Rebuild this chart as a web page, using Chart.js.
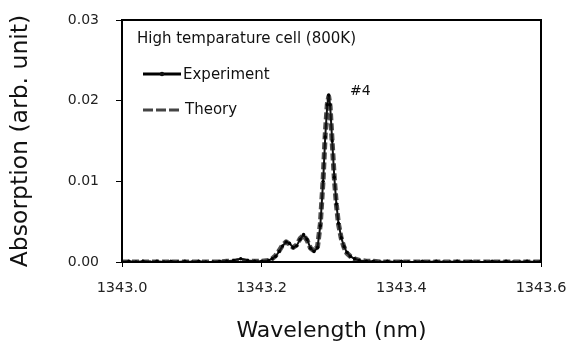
<!DOCTYPE html>
<html><head><meta charset="utf-8">
<script src="https://cdn.jsdelivr.net/npm/chart.js@4.4.1/dist/chart.umd.min.js"></script>
<style>html,body{margin:0;padding:0;background:#fff}#wrap{width:576px;height:349px}</style>
</head><body><div id="wrap"><canvas id="c" width="576" height="349"></canvas></div>
<script>
const wavelengths = [1343.00,1343.01,1343.02,1343.03,1343.04,1343.05,1343.06,1343.07,1343.08,1343.09,1343.10,1343.11,1343.12,1343.13,1343.14,1343.15,1343.16,1343.17,1343.18,1343.19,1343.20,1343.21,1343.215,1343.22,1343.225,1343.23,1343.235,1343.24,1343.245,1343.25,1343.255,1343.26,1343.265,1343.27,1343.275,1343.28,1343.284,1343.288,1343.291,1343.294,1343.296,1343.298,1343.301,1343.304,1343.307,1343.31,1343.314,1343.318,1343.322,1343.327,1343.333,1343.34,1343.35,1343.36,1343.37,1343.38,1343.39,1343.40,1343.41,1343.42,1343.43,1343.44,1343.45,1343.46,1343.47,1343.48,1343.49,1343.50,1343.51,1343.52,1343.53,1343.54,1343.55,1343.56,1343.57,1343.58,1343.59,1343.60];
const experiment = [0.0000,0.0001,0.0000,0.0001,0.0000,0.0001,0.0000,0.0001,0.0000,0.0001,0.0000,0.0001,0.0000,0.0000,0.0001,0.0001,0.0002,0.0004,0.0002,0.0001,0.0001,0.0002,0.0004,0.0007,0.0013,0.0020,0.0025,0.0023,0.0018,0.0020,0.0028,0.0034,0.0028,0.0017,0.0013,0.0018,0.0045,0.0100,0.0155,0.0195,0.0207,0.0195,0.0150,0.0105,0.0072,0.0048,0.0030,0.0019,0.0012,0.0007,0.0004,0.0002,0.0001,0.0001,0.0000,0.0001,0.0000,0.0001,0.0000,0.0000,0.0001,0.0000,0.0001,0.0000,0.0000,0.0001,0.0000,0.0001,0.0000,0.0000,0.0001,0.0000,0.0001,0.0000,0.0000,0.0001,0.0000,0.0001];
const theory = [0.0000,0.0000,0.0000,0.0000,0.0000,0.0000,0.0000,0.0000,0.0000,0.0000,0.0000,0.0000,0.0000,0.0000,0.0000,0.0001,0.0001,0.0002,0.0001,0.0001,0.0001,0.0002,0.0004,0.0008,0.0014,0.0021,0.0025,0.0022,0.0018,0.0021,0.0029,0.0033,0.0027,0.0017,0.0014,0.0019,0.0047,0.0102,0.0158,0.0196,0.0205,0.0193,0.0148,0.0104,0.0071,0.0047,0.0029,0.0018,0.0011,0.0007,0.0004,0.0002,0.0001,0.0001,0.0000,0.0000,0.0000,0.0000,0.0000,0.0000,0.0000,0.0000,0.0000,0.0000,0.0000,0.0000,0.0000,0.0000,0.0000,0.0000,0.0000,0.0000,0.0000,0.0000,0.0000,0.0000,0.0000,0.0000];
const xTicks = [1343.0,1343.2,1343.4,1343.6];
const yTicks = [0.00,0.01,0.02,0.03];
const annotationTitle = "High temparature cell (800K)";
const seriesNames = ["Experiment","Theory"];
const peakLabel = "#4";

const FONT = "'DejaVu Sans', sans-serif";
const expPts = wavelengths.map((w,i)=>({x:w,y:experiment[i]}));
const thPts = wavelengths.map((w,i)=>({x:w,y:theory[i]}));

const overlay = {
  id:'overlay',
  afterDraw(chart){
    const {ctx, chartArea:a} = chart;
    ctx.save();
    ctx.strokeStyle='#000'; ctx.lineWidth=2;
    ctx.strokeRect(a.left, a.top, a.right-a.left, a.bottom-a.top);
    ctx.fillStyle='#111';
    ctx.font='15px '+FONT; ctx.textBaseline='middle'; ctx.textAlign='left';
    ctx.fillText(annotationTitle, 137, 39);
    ctx.strokeStyle='#000'; ctx.lineWidth=3; ctx.setLineDash([]);
    ctx.beginPath(); ctx.moveTo(143,74); ctx.lineTo(181,74); ctx.stroke();
    ctx.beginPath(); ctx.arc(162,74,2.2,0,Math.PI*2); ctx.fill();
    ctx.fillText(seriesNames[0], 183, 75);
    ctx.strokeStyle='#444'; ctx.lineWidth=3; ctx.setLineDash([10,3]);
    ctx.beginPath(); ctx.moveTo(143,110); ctx.lineTo(179,110); ctx.stroke();
    ctx.setLineDash([]);
    ctx.fillText(seriesNames[1], 185, 110);
    ctx.font='14px '+FONT;
    ctx.fillText(peakLabel, 350, 91);
    ctx.restore();
  }
};

new Chart(document.getElementById('c'), {
  type:'scatter',
  data:{datasets:[
    {label:seriesNames[1], data:thPts, showLine:true, borderColor:'#505050', borderWidth:5, borderDash:[7,3], borderJoinStyle:'round', pointRadius:0, order:2, tension:0},
    {label:seriesNames[0], data:expPts, showLine:true, borderColor:'#111', borderWidth:2, borderJoinStyle:'round', pointRadius:1.7, pointBackgroundColor:'#000', pointBorderWidth:0, order:1, tension:0}
  ]},
  options:{
    responsive:false, animation:false, devicePixelRatio:1,
    layout:{padding:{top:20,right:35,left:0,bottom:0}},
    plugins:{legend:{display:false},tooltip:{enabled:false}},
    scales:{
      x:{type:'linear', min:1343.0, max:1343.6,
        afterBuildTicks(s){s.ticks = xTicks.map(v=>({value:v}));},
        afterFit(s){s.height=87; s.paddingLeft=0; s.paddingRight=0;},
        ticks:{callback:v=>v.toFixed(1), font:{family:FONT,size:14.5}, color:'#222', padding:13, maxRotation:0},
        grid:{drawOnChartArea:false, drawTicks:true, tickLength:5, color:'#000'},
        border:{display:true,color:'#000',width:2},
        title:{display:true,text:'Wavelength (nm)',font:{family:FONT,size:22},color:'#111',padding:{top:0,bottom:5}}
      },
      y:{min:0, max:0.03,
        afterBuildTicks(s){s.ticks = yTicks.map(v=>({value:v}));},
        afterFit(s){s.width=122; s.paddingTop=0; s.paddingBottom=0;},
        ticks:{callback:v=>v.toFixed(2), font:{family:FONT,size:14}, color:'#222', padding:17},
        grid:{drawOnChartArea:false, drawTicks:true, tickLength:6, color:'#000'},
        border:{display:true,color:'#000',width:2},
        title:{display:true,text:'Absorption (arb. unit)',font:{family:FONT,size:23.5},color:'#111',padding:{top:7,bottom:0}}
      }
    }
  },
  plugins:[overlay]
});
</script></body></html>
